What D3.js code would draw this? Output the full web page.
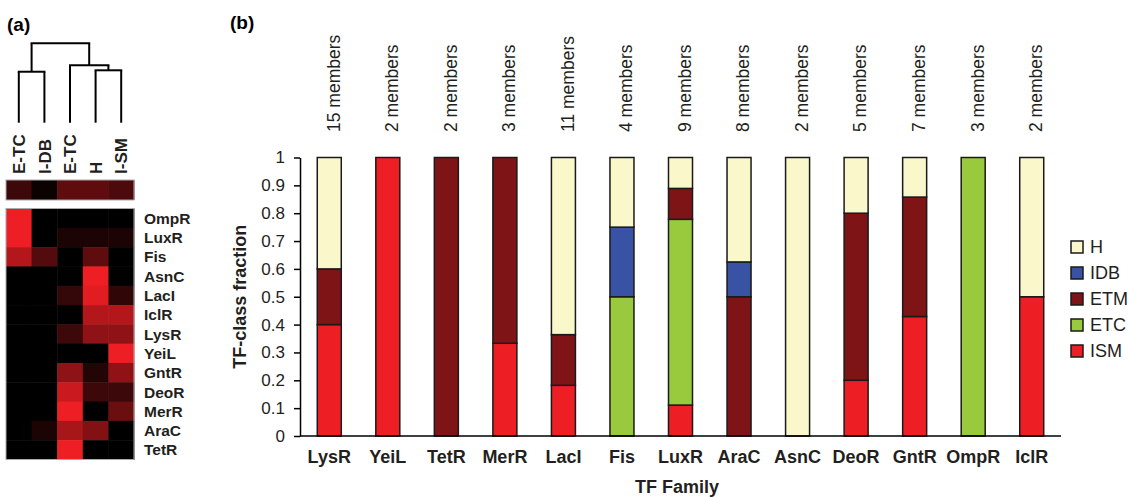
<!DOCTYPE html>
<html>
<head>
<meta charset="utf-8">
<script src="https://cdn.jsdelivr.net/npm/d3@7"></script>
<style>
  body { margin:0; background:#fff; }
  svg { font-family: "Liberation Sans", Arial, Helvetica, sans-serif; }
</style>
</head>
<body>
<svg id="chart" width="1129" height="497"></svg>
<script>
// ---- panel (b) data : TF-class fraction per TF family ----
const families = ['LysR','YeiL','TetR','MerR','LacI','Fis','LuxR','AraC','AsnC','DeoR','GntR','OmpR','IclR'];
const members  = [15, 2, 2, 3, 11, 4, 9, 8, 2, 5, 7, 3, 2];
const classes  = ['ISM','ETC','ETM','IDB','H'];          // stacking order, bottom -> top
const ISM = [0.4, 1, 0, 0.333, 0.182, 0, 0.111, 0, 0, 0.2, 0.429, 0, 0.5];
const ETC = [0, 0, 0, 0, 0, 0.5, 0.667, 0, 0, 0, 0, 1, 0];
const ETM = [0.2, 0, 1, 0.667, 0.182, 0, 0.111, 0.5, 0, 0.6, 0.429, 0, 0];
const IDB = [0, 0, 0, 0, 0, 0.25, 0, 0.125, 0, 0, 0, 0, 0];
const H   = [0.4, 0, 0, 0, 0.636, 0.25, 0.111, 0.375, 1, 0.2, 0.142, 0, 0.5];
const yTicks = [0,0.1,0.2,0.3,0.4,0.5,0.6,0.7,0.8,0.9,1];
const legendOrder = ['H','IDB','ETM','ETC','ISM'];
const classColor = {ISM:'#ee1f24', ETC:'#99c93c', ETM:'#7f1417', IDB:'#3953a4', H:'#faf7cb'};

// ---- panel (a) data : heatmap + dendrogram ----
const heatCols = ['E-TC','I-DB','E-TC','H','I-SM'];
const heatTop  = [0.25, 0.05, 0.4, 0.4, 0.32];
const heatRows = ['OmpR','LuxR','Fis','AsnC','LacI','IclR','LysR','YeiL','GntR','DeoR','MerR','AraC','TetR'];
const heatValues = [
  [1,    0,    0,    0,    0   ],
  [1,    0,    0.12, 0.12, 0.12],
  [0.75, 0.35, 0,    0.4,  0   ],
  [0,    0,    0,    1,    0   ],
  [0,    0,    0.22, 0.95, 0.2 ],
  [0,    0,    0,    0.75, 0.75],
  [0,    0,    0.25, 0.6,  0.6 ],
  [0,    0,    0,    0,    1   ],
  [0,    0,    0.6,  0.15, 0.6 ],
  [0,    0,    0.85, 0.25, 0.25],
  [0,    0,    1,    0,    0.45],
  [0,    0.12, 0.7,  0.55, 0   ],
  [0,    0,    1,    0,    0   ]
];
// merge heights (0 = leaves, 1 = root)
const dendro = {h:1, children:[
  {h:0.642, children:[{leaf:0},{leaf:1}]},
  {h:0.723, children:[{leaf:2},{h:0.66, children:[{leaf:3},{leaf:4}]}]}
]};

const svg = d3.select('#chart');

// ================= panel (a) =================
const pa = svg.append('g');
pa.append('text').attr('x',7).attr('y',31).text('(a)')
  .style('font-weight','bold').style('font-size','19px');

const hx = d3.scaleBand().domain(d3.range(heatCols.length)).range([6,134]);
const hy = d3.scaleBand().domain(heatRows).range([208.5,459.5]);
const heatColor = d3.scaleLinear().domain([0,1]).range(['#000000','#ee1f24']).interpolate(d3.interpolateRgb);

// top strip
pa.selectAll('rect.top').data(heatTop).join('rect').attr('class','top')
  .attr('x',(d,i)=>hx(i)).attr('y',180).attr('width',hx.bandwidth()+0.5).attr('height',20)
  .attr('fill',d=>heatColor(d));
pa.append('rect').attr('x',6).attr('y',180).attr('width',128).attr('height',20)
  .attr('fill','none').attr('stroke','#aaa').attr('stroke-width',1);

// main grid
heatRows.forEach((r,ri)=>{
  pa.selectAll(null).data(heatValues[ri]).join('rect')
    .attr('x',(d,i)=>hx(i)).attr('y',hy(r)).attr('width',hx.bandwidth()+0.5).attr('height',hy.bandwidth()+0.5)
    .attr('fill',d=>heatColor(d));
});
pa.append('rect').attr('x',6).attr('y',208.5).attr('width',128).attr('height',251)
  .attr('fill','none').attr('stroke','#aaa').attr('stroke-width',1);

pa.selectAll('text.row').data(heatRows).join('text').attr('class','row')
  .attr('x',144).attr('y',d=>hy(d)+hy.bandwidth()/2).attr('dy','0.36em')
  .text(d=>d).style('font-weight','bold').style('font-size','15.5px').attr('fill','#231f20');

pa.selectAll('text.col').data(heatCols).join('text').attr('class','col')
  .attr('transform',(d,i)=>`translate(${hx(i)+hx.bandwidth()/2},174) rotate(-90)`)
  .attr('dy','0.36em').attr('text-anchor','start')
  .text(d=>d).style('font-weight','bold').style('font-size','17px').attr('fill','#231f20');

// dendrogram
const dy = d3.scaleLinear().domain([0,1]).range([122.7,43.3]);
const root = d3.hierarchy(dendro);
root.eachAfter(n=>{
  if (n.data.leaf !== undefined) { n.px = hx(n.data.leaf)+hx.bandwidth()/2; n.py = dy(0); }
  else { n.px = d3.mean(n.children,c=>c.px); n.py = dy(n.data.h); }
});
const dg = pa.append('g').attr('stroke','#000').attr('stroke-width',2).attr('fill','none');
root.each(n=>{
  if (!n.children) return;
  dg.append('line').attr('x1',n.children[0].px-1).attr('x2',n.children[1].px+1)
    .attr('y1',n.py).attr('y2',n.py);
  n.children.forEach(c=>{
    dg.append('line').attr('x1',c.px).attr('x2',c.px).attr('y1',c.py).attr('y2',n.py);
  });
});

// ================= panel (b) =================
const pb = svg.append('g');
pb.append('text').attr('x',230).attr('y',29).text('(b)')
  .style('font-weight','bold').style('font-size','19px');

const x = d3.scaleBand().domain(families).range([300,1061]).paddingInner(0.59).paddingOuter(0.295);
const y = d3.scaleLinear().domain([0,1]).range([436,157.5]);

const table = families.map((f,i)=>({family:f, ISM:ISM[i], ETC:ETC[i], ETM:ETM[i], IDB:IDB[i], H:H[i]}));
const series = d3.stack().keys(classes)(table);

pb.append('g').selectAll('g').data(series).join('g')
  .attr('fill',s=>classColor[s.key])
  .selectAll('rect').data(s=>s.filter(d=>d[1]-d[0]>0)).join('rect')
    .attr('x',d=>x(d.data.family)).attr('width',x.bandwidth())
    .attr('y',d=>y(d[1])).attr('height',d=>y(d[0])-y(d[1]))
    .attr('stroke','#1a1a1a').attr('stroke-width',1.5);

// y axis
const yAxis = pb.append('g').attr('transform','translate(300,0)')
  .call(d3.axisLeft(y).tickValues(yTicks).tickSize(6).tickSizeOuter(0).tickPadding(9)
        .tickFormat(d=>d3.format('')(+d.toFixed(1))));
yAxis.select('.domain').attr('stroke','#000').attr('stroke-width',1.5);
yAxis.selectAll('.tick line').attr('stroke','#000').attr('stroke-width',1.5);
yAxis.selectAll('.tick text').style('font-size','17px').attr('fill','#231f20')
  .style('font-family','"Liberation Sans", Arial, sans-serif');

// x axis baseline
pb.append('line').attr('x1',300).attr('x2',1061).attr('y1',y(0)).attr('y2',y(0))
  .attr('stroke','#000').attr('stroke-width',1.5);

pb.selectAll('text.fam').data(families).join('text').attr('class','fam')
  .attr('x',d=>x(d)+x.bandwidth()/2).attr('y',457).attr('dy','0.36em')
  .attr('text-anchor','middle').text(d=>d)
  .style('font-weight','bold').style('font-size','18px').attr('fill','#231f20');

pb.selectAll('text.mem').data(families).join('text').attr('class','mem')
  .attr('transform',(d,i)=>`translate(${x(d)+x.bandwidth()/2+4},132) rotate(-90)`)
  .attr('dy','0.36em').attr('text-anchor','start')
  .text((d,i)=>`${members[i]} members`)
  .style('font-size','17.5px').attr('fill','#231f20');

pb.append('text').attr('transform',`translate(240,${(y(0)+y(1))/2}) rotate(-90)`)
  .attr('text-anchor','middle').attr('dy','0.36em').text('TF-class fraction')
  .style('font-weight','bold').style('font-size','18px').attr('fill','#231f20');

pb.append('text').attr('x',677).attr('y',487).attr('dy','0.36em').attr('text-anchor','middle')
  .text('TF Family').style('font-weight','bold').style('font-size','18px').attr('fill','#231f20');

// legend
const lg = pb.append('g').selectAll('g').data(legendOrder).join('g')
  .attr('transform',(d,i)=>`translate(1071,${247+i*26})`);
lg.append('rect').attr('x',0).attr('y',-6).attr('width',12).attr('height',12)
  .attr('fill',d=>classColor[d]).attr('stroke','#1a1a1a').attr('stroke-width',1.5);
lg.append('text').attr('x',19).attr('dy','0.36em').text(d=>d)
  .style('font-size','18px').attr('fill','#231f20');
</script>
</body>
</html>
